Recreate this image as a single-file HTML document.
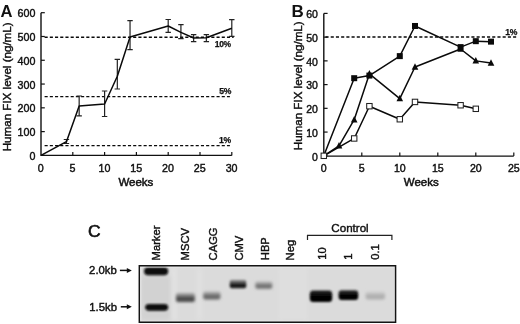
<!DOCTYPE html>
<html><head><meta charset="utf-8"><style>
html,body{margin:0;padding:0;background:#fff;width:520px;height:324px;overflow:hidden}
svg{display:block;will-change:transform;filter:blur(0.35px)}
text{font-family:"Liberation Sans",sans-serif;fill:#111}
</style></head><body>
<svg width="520" height="324" viewBox="0 0 520 324">
<path d="M41 12.7 V155.4 H231.8" fill="none" stroke="#111" stroke-width="1.4"/>
<path d="M41 155.4 h3.8" stroke="#111" stroke-width="1.2"/>
<text x="35.4" y="160" text-anchor="end" font-size="10.7" stroke="#111" stroke-width="0.42">0</text>
<path d="M41 131.62 h3.8" stroke="#111" stroke-width="1.2"/>
<text x="35.4" y="136.22" text-anchor="end" font-size="10.7" stroke="#111" stroke-width="0.42">100</text>
<path d="M41 107.83 h3.8" stroke="#111" stroke-width="1.2"/>
<text x="35.4" y="112.43" text-anchor="end" font-size="10.7" stroke="#111" stroke-width="0.42">200</text>
<path d="M41 84.05 h3.8" stroke="#111" stroke-width="1.2"/>
<text x="35.4" y="88.65" text-anchor="end" font-size="10.7" stroke="#111" stroke-width="0.42">300</text>
<path d="M41 60.27 h3.8" stroke="#111" stroke-width="1.2"/>
<text x="35.4" y="64.87" text-anchor="end" font-size="10.7" stroke="#111" stroke-width="0.42">400</text>
<path d="M41 36.48 h3.8" stroke="#111" stroke-width="1.2"/>
<text x="35.4" y="41.08" text-anchor="end" font-size="10.7" stroke="#111" stroke-width="0.42">500</text>
<path d="M41 12.7 h3.8" stroke="#111" stroke-width="1.2"/>
<text x="35.4" y="17.3" text-anchor="end" font-size="10.7" stroke="#111" stroke-width="0.42">600</text>
<text x="40.8" y="171.6" text-anchor="middle" font-size="10.7" stroke="#111" stroke-width="0.42">0</text>
<path d="M72.8 155.4 v-3.5" stroke="#111" stroke-width="1.2"/>
<text x="72.6" y="171.6" text-anchor="middle" font-size="10.7" stroke="#111" stroke-width="0.42">5</text>
<path d="M104.6 155.4 v-3.5" stroke="#111" stroke-width="1.2"/>
<text x="104.4" y="171.6" text-anchor="middle" font-size="10.7" stroke="#111" stroke-width="0.42">10</text>
<path d="M136.4 155.4 v-3.5" stroke="#111" stroke-width="1.2"/>
<text x="136.2" y="171.6" text-anchor="middle" font-size="10.7" stroke="#111" stroke-width="0.42">15</text>
<path d="M168.2 155.4 v-3.5" stroke="#111" stroke-width="1.2"/>
<text x="168" y="171.6" text-anchor="middle" font-size="10.7" stroke="#111" stroke-width="0.42">20</text>
<path d="M200 155.4 v-3.5" stroke="#111" stroke-width="1.2"/>
<text x="199.8" y="171.6" text-anchor="middle" font-size="10.7" stroke="#111" stroke-width="0.42">25</text>
<path d="M231.8 155.4 v-3.5" stroke="#111" stroke-width="1.2"/>
<text x="231.6" y="171.6" text-anchor="middle" font-size="10.7" stroke="#111" stroke-width="0.42">30</text>
<path d="M44.6 37.25 H233.6" stroke="#0a0a0a" stroke-width="1.45" stroke-dasharray="3.1 2.11"/>
<path d="M44.6 96.6 H229.9" stroke="#0a0a0a" stroke-width="1.45" stroke-dasharray="3.1 2.11"/>
<path d="M44.6 145.6 H229.9" stroke="#0a0a0a" stroke-width="1.45" stroke-dasharray="3.1 2.11"/>
<text x="230.8" y="47.2" text-anchor="end" font-size="8.5" font-weight="bold" letter-spacing="-0.35" stroke="#111" stroke-width="0.25">10%</text>
<text x="231" y="94.3" text-anchor="end" font-size="8.6" font-weight="bold" letter-spacing="-0.3" stroke="#111" stroke-width="0.25">5%</text>
<text x="230.8" y="143.1" text-anchor="end" font-size="8.6" font-weight="bold" letter-spacing="-0.3" stroke="#111" stroke-width="0.25">1%</text>
<path d="M66.44 139.5 V143.5 M63.74 139.5 h5.4 M63.74 143.5 h5.4" stroke="#222" stroke-width="1.2" fill="none"/>
<path d="M79.16 96 V115.8 M76.46 96 h5.4 M76.46 115.8 h5.4" stroke="#222" stroke-width="1.2" fill="none"/>
<path d="M104.6 91 V116.5 M101.9 91 h5.4 M101.9 116.5 h5.4" stroke="#222" stroke-width="1.2" fill="none"/>
<path d="M117.32 59.4 V89 M114.62 59.4 h5.4 M114.62 89 h5.4" stroke="#222" stroke-width="1.2" fill="none"/>
<path d="M130.04 20.6 V49.6 M127.34 20.6 h5.4 M127.34 49.6 h5.4" stroke="#222" stroke-width="1.2" fill="none"/>
<path d="M168.2 19.5 V32.3 M165.5 19.5 h5.4 M165.5 32.3 h5.4" stroke="#222" stroke-width="1.2" fill="none"/>
<path d="M180.92 24.7 V38.6 M178.22 24.7 h5.4 M178.22 38.6 h5.4" stroke="#222" stroke-width="1.2" fill="none"/>
<path d="M193.64 34.7 V41.7 M190.94 34.7 h5.4 M190.94 41.7 h5.4" stroke="#222" stroke-width="1.2" fill="none"/>
<path d="M206.36 34.7 V41.7 M203.66 34.7 h5.4 M203.66 41.7 h5.4" stroke="#222" stroke-width="1.2" fill="none"/>
<path d="M231.8 19.6 V36.3 M229.1 19.6 h5.4 M229.1 36.3 h5.4" stroke="#222" stroke-width="1.2" fill="none"/>
<polyline points="41,155.4 66.44,141.7 79.16,106 104.6,104 117.32,76.2 130.04,37 168.2,26 180.92,32.4 193.64,38 206.36,37.8 231.8,28.2" fill="none" stroke="#0a0a0a" stroke-width="1.5" stroke-linejoin="round"/>
<text x="0.4" y="16.9" font-size="16.6" font-weight="bold">A</text>
<text x="135.9" y="185.9" text-anchor="middle" font-size="11.5" stroke="#111" stroke-width="0.5">Weeks</text>
<text transform="translate(10.5 86.85) rotate(-90)" text-anchor="middle" font-size="11.6" stroke="#111" stroke-width="0.42">Human FIX level (ng/mL)</text>
<path d="M323.8 13.4 V156.1 H513.8" fill="none" stroke="#111" stroke-width="1.4"/>
<path d="M323.8 155.8 h3.8" stroke="#111" stroke-width="1.2"/>
<text x="317.9" y="160.55" text-anchor="end" font-size="10.5" stroke="#111" stroke-width="0.42">0</text>
<path d="M323.8 132.07 h3.8" stroke="#111" stroke-width="1.2"/>
<text x="317.9" y="136.82" text-anchor="end" font-size="10.5" stroke="#111" stroke-width="0.42">10</text>
<path d="M323.8 108.33 h3.8" stroke="#111" stroke-width="1.2"/>
<text x="317.9" y="113.08" text-anchor="end" font-size="10.5" stroke="#111" stroke-width="0.42">20</text>
<path d="M323.8 84.6 h3.8" stroke="#111" stroke-width="1.2"/>
<text x="317.9" y="89.35" text-anchor="end" font-size="10.5" stroke="#111" stroke-width="0.42">30</text>
<path d="M323.8 60.87 h3.8" stroke="#111" stroke-width="1.2"/>
<text x="317.9" y="65.62" text-anchor="end" font-size="10.5" stroke="#111" stroke-width="0.42">40</text>
<path d="M323.8 37.13 h3.8" stroke="#111" stroke-width="1.2"/>
<text x="317.9" y="41.88" text-anchor="end" font-size="10.5" stroke="#111" stroke-width="0.42">50</text>
<path d="M323.8 13.4 h3.8" stroke="#111" stroke-width="1.2"/>
<text x="317.9" y="18.15" text-anchor="end" font-size="10.5" stroke="#111" stroke-width="0.42">60</text>
<text x="323.8" y="171.9" text-anchor="middle" font-size="10.6" stroke="#111" stroke-width="0.42">0</text>
<path d="M361.8 156.1 v-3.6" stroke="#111" stroke-width="1.2"/>
<text x="361.8" y="171.9" text-anchor="middle" font-size="10.6" stroke="#111" stroke-width="0.42">5</text>
<path d="M399.8 156.1 v-3.6" stroke="#111" stroke-width="1.2"/>
<text x="399.8" y="171.9" text-anchor="middle" font-size="10.6" stroke="#111" stroke-width="0.42">10</text>
<path d="M437.8 156.1 v-3.6" stroke="#111" stroke-width="1.2"/>
<text x="437.8" y="171.9" text-anchor="middle" font-size="10.6" stroke="#111" stroke-width="0.42">15</text>
<path d="M475.8 156.1 v-3.6" stroke="#111" stroke-width="1.2"/>
<text x="475.8" y="171.9" text-anchor="middle" font-size="10.6" stroke="#111" stroke-width="0.42">20</text>
<path d="M513.8 156.1 v-3.6" stroke="#111" stroke-width="1.2"/>
<text x="513.8" y="171.9" text-anchor="middle" font-size="10.6" stroke="#111" stroke-width="0.42">25</text>
<path d="M325.5 36.9 H516.6" stroke="#0a0a0a" stroke-width="1.45" stroke-dasharray="3.1 2.11"/>
<text x="517" y="34.9" text-anchor="end" font-size="8.6" font-weight="bold" letter-spacing="-0.3" stroke="#111" stroke-width="0.25">1%</text>
<text x="291.4" y="17.1" font-size="17" font-weight="bold">B</text>
<text x="421.3" y="185.7" text-anchor="middle" font-size="11.5" stroke="#111" stroke-width="0.5">Weeks</text>
<text transform="translate(301.7 85.8) rotate(-90)" text-anchor="middle" font-size="11.6" stroke="#111" stroke-width="0.42">Human FIX level (ng/mL)</text>
<polyline points="323.8,155.8 354.2,78.19 369.4,75.58 399.8,56.12 415,25.98 460.6,47.1 475.8,41.17 491,41.64" fill="none" stroke="#0a0a0a" stroke-width="1.5" stroke-linejoin="round"/>
<polyline points="323.8,155.8 339,145.83 354.2,119.73 369.4,73.92 399.8,98.6 415,67.04 460.6,49 475.8,60.87 491,63" fill="none" stroke="#0a0a0a" stroke-width="1.5" stroke-linejoin="round"/>
<polyline points="323.8,155.8 354.2,138.47 369.4,106.2 399.8,119.25 415,101.93 460.6,105.25 475.8,108.81" fill="none" stroke="#0a0a0a" stroke-width="1.5" stroke-linejoin="round"/>
<path d="M339 142.03 L342.3 148.53 L335.7 148.53Z" fill="#0a0a0a"/>
<path d="M354.2 115.93 L357.5 122.43 L350.9 122.43Z" fill="#0a0a0a"/>
<path d="M369.4 70.12 L372.7 76.62 L366.1 76.62Z" fill="#0a0a0a"/>
<path d="M399.8 94.8 L403.1 101.3 L396.5 101.3Z" fill="#0a0a0a"/>
<path d="M415 63.24 L418.3 69.74 L411.7 69.74Z" fill="#0a0a0a"/>
<path d="M460.6 45.2 L463.9 51.7 L457.3 51.7Z" fill="#0a0a0a"/>
<path d="M475.8 57.07 L479.1 63.57 L472.5 63.57Z" fill="#0a0a0a"/>
<path d="M491 59.2 L494.3 65.7 L487.7 65.7Z" fill="#0a0a0a"/>
<rect x="351.2" y="75.19" width="6" height="6" fill="#0a0a0a"/>
<rect x="366.4" y="72.58" width="6" height="6" fill="#0a0a0a"/>
<rect x="396.8" y="53.12" width="6" height="6" fill="#0a0a0a"/>
<rect x="412" y="22.98" width="6" height="6" fill="#0a0a0a"/>
<rect x="457.6" y="44.1" width="6" height="6" fill="#0a0a0a"/>
<rect x="472.8" y="38.17" width="6" height="6" fill="#0a0a0a"/>
<rect x="488" y="38.64" width="6" height="6" fill="#0a0a0a"/>
<rect x="321.1" y="153.1" width="5.4" height="5.4" fill="#fff" stroke="#222" stroke-width="1.05"/>
<rect x="351.5" y="135.77" width="5.4" height="5.4" fill="#fff" stroke="#222" stroke-width="1.05"/>
<rect x="366.7" y="103.5" width="5.4" height="5.4" fill="#fff" stroke="#222" stroke-width="1.05"/>
<rect x="397.1" y="116.55" width="5.4" height="5.4" fill="#fff" stroke="#222" stroke-width="1.05"/>
<rect x="412.3" y="99.23" width="5.4" height="5.4" fill="#fff" stroke="#222" stroke-width="1.05"/>
<rect x="457.9" y="102.55" width="5.4" height="5.4" fill="#fff" stroke="#222" stroke-width="1.05"/>
<rect x="473.1" y="106.11" width="5.4" height="5.4" fill="#fff" stroke="#222" stroke-width="1.05"/>
<text x="88.1" y="237.1" font-size="17.4" stroke="#111" stroke-width="0.65">C</text>
<text transform="translate(159.5 260.4) rotate(-90)" font-size="11.2" stroke="#111" stroke-width="0.42">Marker</text>
<text transform="translate(189.3 260.4) rotate(-90)" font-size="11.2" stroke="#111" stroke-width="0.42">MSCV</text>
<text transform="translate(216.5 260.4) rotate(-90)" font-size="11.2" stroke="#111" stroke-width="0.42">CAGG</text>
<text transform="translate(242.7 260.6) rotate(-90)" font-size="11.2" stroke="#111" stroke-width="0.42">CMV</text>
<text transform="translate(268.5 260.2) rotate(-90)" font-size="11.2" stroke="#111" stroke-width="0.42">HBP</text>
<text transform="translate(294.3 260.4) rotate(-90)" font-size="11.2" stroke="#111" stroke-width="0.42">Neg</text>
<text transform="translate(326 259.8) rotate(-90)" font-size="11.2" stroke="#111" stroke-width="0.42">10</text>
<text transform="translate(352.3 259.8) rotate(-90)" font-size="11.2" stroke="#111" stroke-width="0.42">1</text>
<text transform="translate(378.6 259.8) rotate(-90)" font-size="11.2" stroke="#111" stroke-width="0.42">0.1</text>
<text x="350" y="231.7" text-anchor="middle" font-size="11.6" stroke="#111" stroke-width="0.42">Control</text>
<path d="M307.5 240 V235.4 H391.9 V240" fill="none" stroke="#222" stroke-width="1.2"/>
<text x="89.1" y="274.3" font-size="11.3" stroke="#111" stroke-width="0.42">2.0kb</text>
<text x="89.3" y="310.6" font-size="11.3" stroke="#111" stroke-width="0.42">1.5kb</text>
<path d="M119.9 270.4 H128" stroke="#111" stroke-width="1.5"/><path d="M131.8 270.4 l-5 -2.5 v5z" fill="#111"/>
<path d="M120.8 306.8 H128" stroke="#111" stroke-width="1.5"/><path d="M131.8 306.8 l-5 -2.5 v5z" fill="#111"/>
<defs><filter id="bl" x="-50%" y="-50%" width="200%" height="200%"><feGaussianBlur stdDeviation="1.1"/></filter><filter id="bg" x="-10%" y="-10%" width="120%" height="120%"><feGaussianBlur stdDeviation="2"/></filter></defs>
<rect x="139.3" y="265.7" width="256.3" height="56.5" fill="#dbdbdb"/>
<g filter="url(#bg)"><rect x="141" y="276" width="30" height="44" fill="#d2d2d2"/><rect x="171" y="268" width="6" height="52" fill="#e2e2e2"/><rect x="197" y="268" width="5" height="52" fill="#e0e0e0"/><rect x="278" y="268" width="30" height="52" fill="#dedede"/></g>
<defs><linearGradient id="g0" x1="0" y1="0" x2="0" y2="1"><stop offset="0" stop-color="#0c0c0c"/><stop offset="0.55" stop-color="#080808"/><stop offset="1" stop-color="#080808"/></linearGradient><filter id="f0" x="-50%" y="-50%" width="200%" height="200%"><feGaussianBlur stdDeviation="0.95"/></filter><linearGradient id="g1" x1="0" y1="0" x2="0" y2="1"><stop offset="0" stop-color="#0c0c0c"/><stop offset="0.55" stop-color="#080808"/><stop offset="1" stop-color="#080808"/></linearGradient><filter id="f1" x="-50%" y="-50%" width="200%" height="200%"><feGaussianBlur stdDeviation="0.95"/></filter><linearGradient id="g2" x1="0" y1="0" x2="0" y2="1"><stop offset="0" stop-color="#b4b4b4"/><stop offset="0.55" stop-color="#484848"/><stop offset="1" stop-color="#484848"/></linearGradient><filter id="f2" x="-50%" y="-50%" width="200%" height="200%"><feGaussianBlur stdDeviation="1.4"/></filter><linearGradient id="g3" x1="0" y1="0" x2="0" y2="1"><stop offset="0" stop-color="#bababa"/><stop offset="0.55" stop-color="#666666"/><stop offset="1" stop-color="#666666"/></linearGradient><filter id="f3" x="-50%" y="-50%" width="200%" height="200%"><feGaussianBlur stdDeviation="1.4"/></filter><linearGradient id="g4" x1="0" y1="0" x2="0" y2="1"><stop offset="0" stop-color="#a0a0a0"/><stop offset="0.55" stop-color="#1a1a1a"/><stop offset="1" stop-color="#1a1a1a"/></linearGradient><filter id="f4" x="-50%" y="-50%" width="200%" height="200%"><feGaussianBlur stdDeviation="1.25"/></filter><linearGradient id="g5" x1="0" y1="0" x2="0" y2="1"><stop offset="0" stop-color="#c0c0c0"/><stop offset="0.55" stop-color="#707070"/><stop offset="1" stop-color="#707070"/></linearGradient><filter id="f5" x="-50%" y="-50%" width="200%" height="200%"><feGaussianBlur stdDeviation="1.4"/></filter><linearGradient id="g6" x1="0" y1="0" x2="0" y2="1"><stop offset="0" stop-color="#242424"/><stop offset="0.55" stop-color="#030303"/><stop offset="1" stop-color="#030303"/></linearGradient><filter id="f6" x="-50%" y="-50%" width="200%" height="200%"><feGaussianBlur stdDeviation="1.0"/></filter><linearGradient id="g7" x1="0" y1="0" x2="0" y2="1"><stop offset="0" stop-color="#303030"/><stop offset="0.55" stop-color="#050505"/><stop offset="1" stop-color="#050505"/></linearGradient><filter id="f7" x="-50%" y="-50%" width="200%" height="200%"><feGaussianBlur stdDeviation="1.0"/></filter><linearGradient id="g8" x1="0" y1="0" x2="0" y2="1"><stop offset="0" stop-color="#d2d2d2"/><stop offset="0.55" stop-color="#aeaeae"/><stop offset="1" stop-color="#aeaeae"/></linearGradient><filter id="f8" x="-50%" y="-50%" width="200%" height="200%"><feGaussianBlur stdDeviation="1.5"/></filter></defs>
<rect x="144" y="267.3" width="24.2" height="7.9" rx="4.2" fill="url(#g0)" filter="url(#f0)"/>
<rect x="145.2" y="303.9" width="23" height="6.8" rx="3.8" fill="url(#g1)" filter="url(#f1)"/>
<rect x="176" y="293" width="18.8" height="9" rx="1.8" fill="url(#g2)" filter="url(#f2)"/>
<rect x="203.2" y="291.6" width="17.2" height="7.8" rx="1.8" fill="url(#g3)" filter="url(#f3)"/>
<rect x="229.8" y="279.8" width="16.4" height="8.4" rx="1.8" fill="url(#g4)" filter="url(#f4)"/>
<rect x="255.4" y="281.4" width="16.8" height="7.4" rx="1.8" fill="url(#g5)" filter="url(#f5)"/>
<rect x="309.8" y="290.4" width="22.4" height="11.6" rx="3.5" fill="url(#g6)" filter="url(#f6)"/>
<rect x="338.6" y="290.2" width="19.6" height="9.8" rx="3" fill="url(#g7)" filter="url(#f7)"/>
<rect x="365.6" y="291.6" width="19.4" height="7.8" rx="2.5" fill="url(#g8)" filter="url(#f8)"/>
<path d="M140.8 321 V267 H394.3" fill="none" stroke="#f2f2f2" stroke-width="1" opacity="0.7"/>
<path d="M140.8 320.9 H394.3" fill="none" stroke="#ececec" stroke-width="1" opacity="0.6"/>
<path d="M139.3 265.7 H395.6 V322.2 H139.3 Z" fill="none" stroke="#141414" stroke-width="1.45"/>
</svg>
</body></html>
